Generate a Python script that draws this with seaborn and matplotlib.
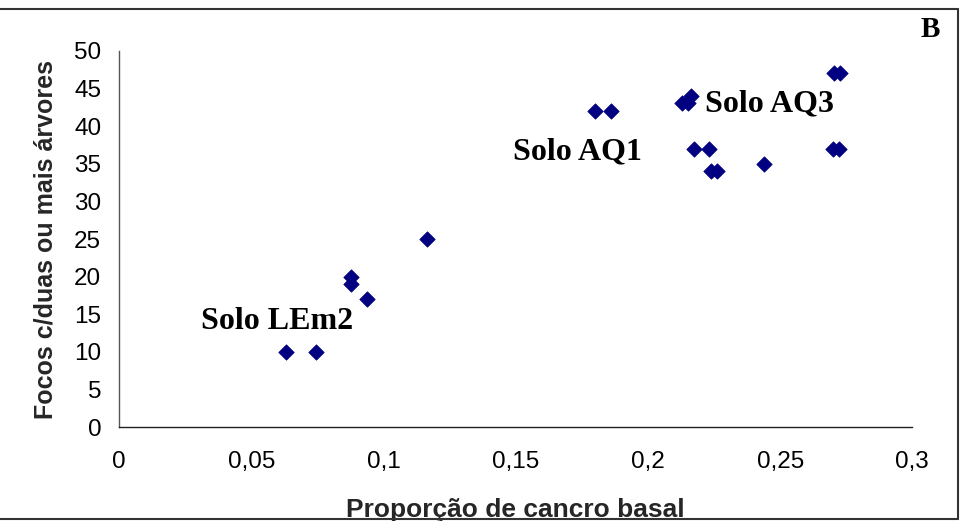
import matplotlib
matplotlib.use("Agg")
import matplotlib.pyplot as plt
from matplotlib.lines import Line2D
import seaborn as sns
import pandas as pd

# Proportion of basal canker per survey area and number of foci with two or more trees
proporcao = [0.0629, 0.0745, 0.0878, 0.0878, 0.0938, 0.1165,
             0.180, 0.186, 0.213, 0.2153, 0.2163,
             0.2176, 0.2229, 0.2237, 0.2262, 0.244,
             0.2701, 0.2724, 0.2705, 0.2725]
focos = [10, 10, 20, 19, 17, 25,
         42, 42, 43, 43, 44,
         37, 37, 34, 34, 35,
         37, 37, 47, 47]

solo_labels = ["Solo LEm2", "Solo AQ1", "Solo AQ3"]
solo_label_xy = [(0.0308, 13.1), (0.1491, 35.5), (0.2217, 42.0)]

x_ticks = [0, 0.05, 0.1, 0.15, 0.2, 0.25, 0.3]
x_tick_labels = ["0", "0,05", "0,1", "0,15", "0,2", "0,25", "0,3"]
y_ticks = [0, 5, 10, 15, 20, 25, 30, 35, 40, 45, 50]

df = pd.DataFrame({"proporcao": proporcao, "focos": focos})

sns.set_style("white")
plt.rcParams["font.family"] = ["Liberation Sans", "DejaVu Sans"]

fig = plt.figure(figsize=(9.65, 5.21), dpi=100)
ax = fig.add_axes([0.1236, 0.1798, 0.8218, 0.7229])

sns.scatterplot(data=df, x="proporcao", y="focos", ax=ax, marker="D",
                color="#000080", s=62, edgecolor="#000080", linewidth=0.5,
                legend=False, zorder=3)

ax.set_xlim(0, 0.3)
ax.set_ylim(0, 50)
ax.set_xticks(x_ticks)
ax.set_xticklabels(x_tick_labels)
ax.set_yticks(y_ticks)
ax.tick_params(axis="both", direction="out", length=5, width=1,
               color="#555555", labelsize=17.5, labelcolor="black")
ax.tick_params(axis="x", pad=12)
ax.tick_params(axis="y", pad=8)

for side in ["top", "right"]:
    ax.spines[side].set_visible(False)
for side in ["left", "bottom"]:
    ax.spines[side].set_color("#555555")
    ax.spines[side].set_linewidth(1)
ax.spines["bottom"].set_color("#222222")

ax.set_xlabel("Proporção de cancro basal", fontsize=19, fontweight="bold",
              labelpad=18)
ax.set_ylabel("Focos c/duas ou mais árvores", fontsize=18, fontweight="bold",
              labelpad=12)

for txt, (tx, ty) in zip(solo_labels, solo_label_xy):
    ax.text(tx, ty, txt, fontsize=23, fontweight="bold",
            family=["Liberation Serif", "DejaVu Serif"], ha="left",
            va="baseline", color="black")

fig.text(0.9637, 0.944, "B", fontsize=21, fontweight="bold",
         family=["Liberation Serif", "DejaVu Serif"], ha="center",
         va="center", color="black")

# outer frame of the panel
frame_kw = dict(color="#333333", linewidth=1.5, transform=fig.transFigure)
fig.add_artist(Line2D([0.0, 0.9927], [0.983, 0.983], **frame_kw))
fig.add_artist(Line2D([0.9927, 0.9927], [0.983, 0.004], **frame_kw))
fig.add_artist(Line2D([0.0, 0.9927], [0.004, 0.004], **frame_kw))

fig.savefig("out.png", dpi=100)
